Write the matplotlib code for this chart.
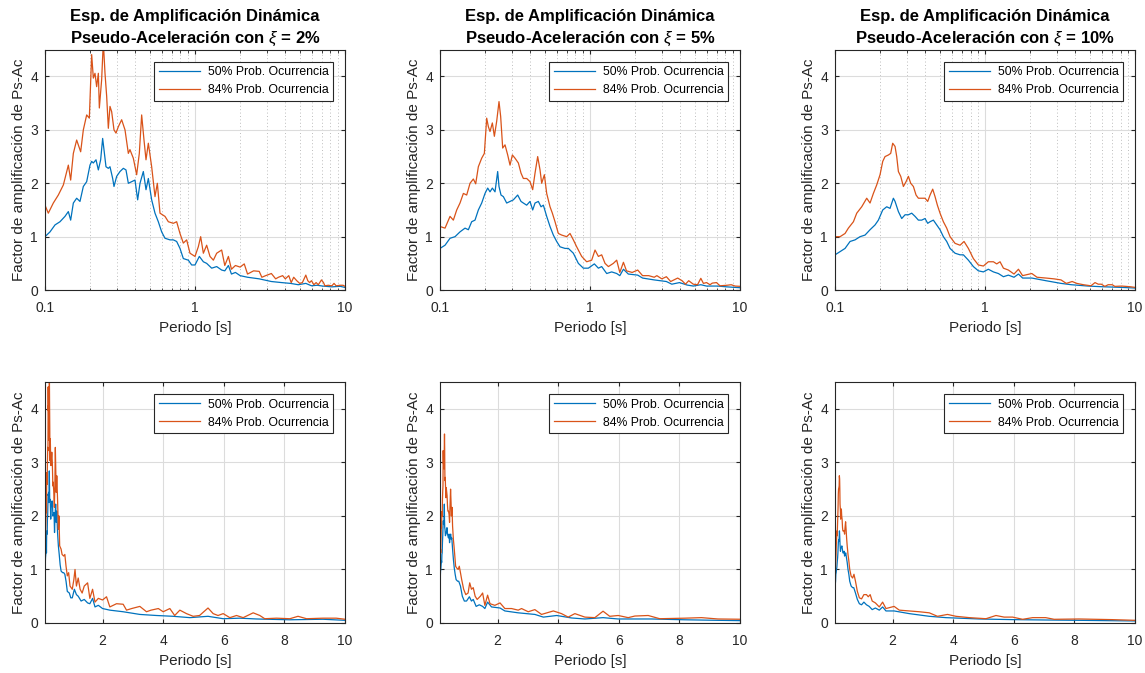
import numpy as np
import matplotlib.pyplot as plt

plt.rcParams['font.family'] = ['Liberation Sans', 'DejaVu Sans']
plt.rcParams['mathtext.fontset'] = 'custom'
plt.rcParams['mathtext.it'] = 'Liberation Sans:italic'
plt.rcParams['mathtext.rm'] = 'Liberation Sans'

amort = [2, 5, 10]

# Periodos [s] y factores, xi = 2%
T_50_2 = [0.100, 0.108, 0.1166, 0.1259, 0.1359, 0.1431, 0.1483, 0.1545, 0.1626, 0.1711,
          0.1801, 0.1896, 0.1995, 0.2047, 0.2100, 0.2188, 0.2268, 0.2350, 0.2423, 0.2473,
          0.2550, 0.2644, 0.2712, 0.2826, 0.2884, 0.3005, 0.3162, 0.3329, 0.3467, 0.3594,
          0.3782, 0.3981, 0.4147, 0.4299, 0.4524, 0.4714, 0.4886, 0.5142, 0.5412, 0.5695,
          0.5995, 0.6310, 0.6813, 0.7171, 0.7547, 0.7943, 0.8360, 0.9027, 0.9501, 1.0,
          1.069, 1.137, 1.196, 1.292, 1.395, 1.506, 1.58, 1.67, 1.75, 1.86,
          2.0, 2.24, 2.68, 3.23, 3.78, 4.33, 4.88, 5.48, 5.98, 6.53,
          7.08, 8.18, 9.27, 10.0]
S_50_2 = [1.00, 1.09, 1.22, 1.28, 1.38, 1.47, 1.31, 1.63, 1.72, 1.66,
          1.94, 2.03, 2.34, 2.41, 2.38, 2.44, 2.25, 2.44, 2.84, 2.63,
          2.31, 2.28, 2.31, 2.09, 1.94, 2.13, 2.22, 2.28, 2.25, 2.00,
          2.03, 2.06, 1.69, 2.00, 2.22, 1.88, 2.09, 1.69, 1.44, 1.28,
          1.09, 0.97, 0.94, 0.94, 0.91, 0.78, 0.59, 0.56, 0.47, 0.47,
          0.63, 0.53, 0.50, 0.41, 0.44, 0.375, 0.36, 0.46, 0.30, 0.33,
          0.27, 0.24, 0.21, 0.16, 0.14, 0.125, 0.10, 0.125, 0.08, 0.09,
          0.075, 0.06, 0.07, 0.05]
T_84_2 = [0.100, 0.1052, 0.1136, 0.1227, 0.1326, 0.1431, 0.1483, 0.1545, 0.1626, 0.1729,
          0.1801, 0.1896, 0.1975, 0.2047, 0.2100, 0.2154, 0.2210, 0.2268, 0.2303, 0.2386,
          0.2448, 0.2512, 0.2577, 0.2644, 0.2712, 0.2783, 0.2884, 0.2974, 0.3083, 0.3244,
          0.3415, 0.3594, 0.3684, 0.3880, 0.4084, 0.4254, 0.4410, 0.4571, 0.4714, 0.4886,
          0.5142, 0.5412, 0.5610, 0.5843, 0.6310, 0.6641, 0.7171, 0.7547, 0.7943, 0.8360,
          0.8799, 0.9261, 1.0, 1.052, 1.091, 1.137, 1.196, 1.259, 1.326, 1.395,
          1.506, 1.58, 1.67, 1.75, 1.86, 2.0, 2.13, 2.24, 2.46, 2.68,
          2.79, 2.96, 3.23, 3.45, 3.6, 3.84, 4.0, 4.22, 4.38, 4.55,
          4.77, 4.99, 5.2, 5.48, 5.65, 5.81, 5.98, 6.2, 6.42, 6.64,
          6.97, 7.19, 7.35, 7.74, 8.18, 8.45, 8.73, 9.27, 9.71, 10.0]
S_84_2 = [1.59, 1.44, 1.63, 1.78, 1.97, 2.34, 2.06, 2.56, 2.81, 2.59,
          3.00, 3.28, 3.22, 4.41, 3.97, 4.06, 3.81, 4.06, 3.41, 3.94,
          4.65, 4.06, 3.63, 3.03, 3.44, 3.34, 3.00, 2.94, 3.06, 3.19,
          3.00, 2.56, 2.63, 2.47, 2.16, 2.56, 3.28, 2.81, 2.44, 2.75,
          2.31, 1.75, 2.00, 1.44, 1.38, 1.28, 1.25, 1.28, 1.06, 0.88,
          0.94, 0.69, 0.63, 0.81, 1.00, 0.69, 0.84, 0.63, 0.56, 0.69,
          0.75, 0.46, 0.63, 0.39, 0.46, 0.43, 0.49, 0.30, 0.36, 0.35,
          0.24, 0.27, 0.31, 0.21, 0.24, 0.27, 0.21, 0.27, 0.14, 0.24,
          0.175, 0.125, 0.14, 0.28, 0.175, 0.14, 0.175, 0.10, 0.14, 0.10,
          0.19, 0.14, 0.08, 0.09, 0.08, 0.125, 0.08, 0.09, 0.09, 0.07]

# xi = 5%
T_50_5 = [0.100, 0.108, 0.1166, 0.1259, 0.1359, 0.1468, 0.1545, 0.1626, 0.1711, 0.1801,
          0.1896, 0.1995, 0.2079, 0.2154, 0.2233, 0.2326, 0.2423, 0.2473, 0.2550, 0.2644,
          0.2783, 0.2929, 0.3083, 0.3295, 0.3467, 0.3594, 0.3782, 0.3981, 0.4147, 0.4299,
          0.4524, 0.4714, 0.4886, 0.5142, 0.5412, 0.5695, 0.5995, 0.6310, 0.6813, 0.7171,
          0.7743, 0.8360, 0.9027, 0.9747, 1.069, 1.137, 1.196, 1.292, 1.395, 1.506,
          1.58, 1.67, 1.80, 2.08, 2.24, 2.68, 3.23, 3.51, 3.95, 4.44,
          4.88, 5.48, 5.98, 6.53, 7.08, 8.18, 9.27, 10.0]
S_50_5 = [0.78, 0.84, 0.97, 1.00, 1.09, 1.16, 1.13, 1.28, 1.31, 1.50,
          1.63, 1.81, 1.91, 1.84, 1.91, 1.84, 2.22, 1.94, 1.78, 1.75,
          1.63, 1.66, 1.69, 1.78, 1.66, 1.63, 1.59, 1.66, 1.50, 1.63,
          1.66, 1.56, 1.59, 1.38, 1.19, 1.03, 0.91, 0.81, 0.78, 0.78,
          0.69, 0.50, 0.41, 0.41, 0.49, 0.41, 0.44, 0.31, 0.34, 0.31,
          0.27, 0.39, 0.30, 0.28, 0.225, 0.19, 0.16, 0.11, 0.14, 0.094,
          0.075, 0.10, 0.075, 0.075, 0.075, 0.06, 0.05, 0.044]
T_84_5 = [0.100, 0.108, 0.1166, 0.1227, 0.1292, 0.1359, 0.1431, 0.1506, 0.1585, 0.1668,
          0.1729, 0.1801, 0.1896, 0.1975, 0.2047, 0.2100, 0.2154, 0.2233, 0.2303, 0.2386,
          0.2473, 0.2537, 0.2617, 0.2712, 0.2826, 0.2929, 0.3036, 0.3162, 0.3329, 0.3467,
          0.3594, 0.3782, 0.3981, 0.4147, 0.4299, 0.4478, 0.4642, 0.4762, 0.4962, 0.5142,
          0.5412, 0.5610, 0.5843, 0.6150, 0.6473, 0.6990, 0.7356, 0.7743, 0.8149, 0.8799,
          0.9501, 1.026, 1.080, 1.137, 1.196, 1.259, 1.326, 1.431, 1.506, 1.58,
          1.67, 1.75, 1.91, 2.08, 2.24, 2.46, 2.68, 2.79, 3.01, 3.23,
          3.45, 3.84, 4.11, 4.33, 4.55, 4.88, 5.21, 5.48, 5.70, 5.98,
          6.31, 6.53, 6.97, 7.35, 8.18, 8.73, 9.27, 10.0]
S_84_5 = [1.19, 1.16, 1.38, 1.31, 1.50, 1.63, 1.81, 1.78, 2.00, 2.08,
          1.99, 2.31, 2.47, 2.56, 3.22, 3.06, 2.97, 3.13, 2.88, 3.16,
          3.53, 3.25, 2.66, 2.72, 2.53, 2.34, 2.53, 2.47, 2.38, 2.19,
          2.09, 2.09, 2.03, 1.88, 2.19, 2.50, 2.25, 2.00, 2.16, 1.81,
          1.56, 1.44, 1.28, 1.06, 1.03, 1.00, 1.06, 0.94, 0.81, 0.63,
          0.53, 0.56, 0.75, 0.63, 0.66, 0.50, 0.44, 0.50, 0.56, 0.33,
          0.52, 0.36, 0.33, 0.375, 0.27, 0.27, 0.24, 0.27, 0.21, 0.25,
          0.16, 0.225, 0.175, 0.11, 0.175, 0.11, 0.10, 0.22, 0.125, 0.14,
          0.10, 0.13, 0.14, 0.08, 0.09, 0.10, 0.075, 0.07]

# xi = 10%
T_50_10 = [0.100, 0.108, 0.1166, 0.1259, 0.1359, 0.1468, 0.1585, 0.1711, 0.1848, 0.1945,
           0.2079, 0.2210, 0.2326, 0.2448, 0.2512, 0.2644, 0.2783, 0.2929, 0.3083, 0.3244,
           0.3415, 0.3594, 0.3782, 0.3981, 0.4147, 0.4299, 0.4524, 0.4762, 0.5012, 0.5275,
           0.5552, 0.5843, 0.6310, 0.6813, 0.7171, 0.7743, 0.8360, 0.9027, 0.9747, 1.052,
           1.137, 1.227, 1.326, 1.431, 1.56, 1.67, 1.78, 2.05, 2.55, 3.21,
           3.76, 4.86, 5.96, 7.05, 8.15, 10.0]
S_50_10 = [0.66, 0.72, 0.78, 0.91, 0.94, 1.00, 1.03, 1.13, 1.22, 1.31,
           1.50, 1.56, 1.53, 1.72, 1.66, 1.47, 1.34, 1.41, 1.41, 1.44,
           1.38, 1.31, 1.31, 1.34, 1.25, 1.28, 1.31, 1.22, 1.13, 1.00,
           0.91, 0.78, 0.69, 0.66, 0.66, 0.56, 0.44, 0.36, 0.34, 0.39,
           0.34, 0.31, 0.25, 0.28, 0.24, 0.30, 0.225, 0.225, 0.175, 0.125,
           0.10, 0.075, 0.063, 0.056, 0.05, 0.038]
T_84_10 = [0.100, 0.108, 0.1166, 0.1227, 0.1326, 0.1395, 0.1506, 0.1626, 0.1711, 0.1801,
           0.1896, 0.1995, 0.2079, 0.2154, 0.2268, 0.2350, 0.2423, 0.2512, 0.2577, 0.2644,
           0.2741, 0.2855, 0.2974, 0.3083, 0.3195, 0.3329, 0.3467, 0.3594, 0.3782, 0.3981,
           0.4147, 0.4299, 0.4478, 0.4642, 0.4811, 0.5012, 0.5275, 0.5552, 0.5843, 0.6310,
           0.6813, 0.7244, 0.7743, 0.8360, 0.9027, 0.9747, 1.052, 1.137, 1.196, 1.259,
           1.326, 1.431, 1.56, 1.67, 1.78, 2.05, 2.22, 2.55, 2.88, 3.21,
           3.48, 3.81, 4.09, 4.53, 5.08, 5.41, 5.68, 5.96, 6.29, 6.62,
           7.05, 7.33, 8.15, 9.25, 10.0]
S_84_10 = [1.00, 1.00, 1.06, 1.16, 1.28, 1.44, 1.56, 1.72, 1.63, 1.81,
           1.97, 2.16, 2.41, 2.50, 2.53, 2.56, 2.75, 2.69, 2.50, 2.22,
           2.13, 1.94, 2.03, 2.13, 2.00, 1.94, 1.78, 1.72, 1.72, 1.72,
           1.66, 1.78, 1.89, 1.75, 1.59, 1.44, 1.28, 1.16, 1.00, 0.875,
           0.84, 0.91, 0.78, 0.59, 0.47, 0.45, 0.53, 0.53, 0.49, 0.53,
           0.41, 0.375, 0.30, 0.39, 0.27, 0.31, 0.24, 0.225, 0.21, 0.19,
           0.125, 0.16, 0.125, 0.10, 0.08, 0.14, 0.11, 0.11, 0.069, 0.10,
           0.10, 0.069, 0.075, 0.063, 0.05]

datos = {2: (T_50_2, S_50_2, T_84_2, S_84_2),
         5: (T_50_5, S_50_5, T_84_5, S_84_5),
         10: (T_50_10, S_50_10, T_84_10, S_84_10)}

azul = '#0072BD'
naranja = '#D95319'
gris = '#262626'

fig = plt.figure(figsize=(11.45, 6.73), dpi=100)
lefts = [0.0393, 0.3843, 0.7293]
w = 0.262

for i, xi in enumerate(amort):
    T50, S50, T84, S84 = datos[xi]
    for fila in range(2):
        if fila == 0:
            ax = fig.add_axes([lefts[i], 0.569, w, 0.357])
        else:
            ax = fig.add_axes([lefts[i], 0.0743, w, 0.358])
        ax.plot(T50, S50, color=azul, lw=0.9, label='50% Prob. Ocurrencia')
        ax.plot(T84, S84, color=naranja, lw=0.9, label='84% Prob. Ocurrencia')
        if fila == 0:
            ax.set_xscale('log')
            ax.set_xticks([0.1, 1, 10])
            ax.set_xticklabels(['0.1', '1', '10'])
            ax.grid(True, which='major', color='#dcdcdc', lw=0.8)
            ax.grid(True, which='minor', color='#bdbdbd', lw=0.7, ls=(0, (1, 2.5)))
            ax.set_title('Esp. de Amplificación Dinámica\nPseudo-Aceleración con $\\xi$ = %d%%' % xi,
                         fontsize=12, fontweight='bold', pad=5, linespacing=1.45)
        else:
            ax.set_xticks([2, 4, 6, 8, 10])
            ax.grid(True, which='major', color='#dcdcdc', lw=0.8)
        ax.set_xlim(0.1, 10)
        ax.set_ylim(0, 4.5)
        ax.set_yticks([0, 1, 2, 3, 4])
        ax.set_axisbelow(True)
        ax.tick_params(which='both', direction='in', top=True, right=True,
                       labelsize=10, colors=gris, length=3)
        ax.tick_params(which='minor', length=1.8)
        ax.tick_params(axis='x', pad=8)
        ax.tick_params(axis='y', pad=5)
        for s in ax.spines.values():
            s.set_color(gris)
            s.set_linewidth(0.8)
        ax.set_xlabel('Periodo [s]', fontsize=11, color=gris, labelpad=4)
        ax.set_ylabel('Factor de amplificación de Ps-Ac', fontsize=11, color=gris, labelpad=3)
        leg = ax.legend(loc='upper right', fontsize=8.8, fancybox=False, framealpha=1,
                        edgecolor=gris, handlelength=3.4, borderaxespad=1.0,
                        borderpad=0.35, handletextpad=0.6)
        leg.get_frame().set_linewidth(0.8)

plt.savefig('out.png', dpi=100)
